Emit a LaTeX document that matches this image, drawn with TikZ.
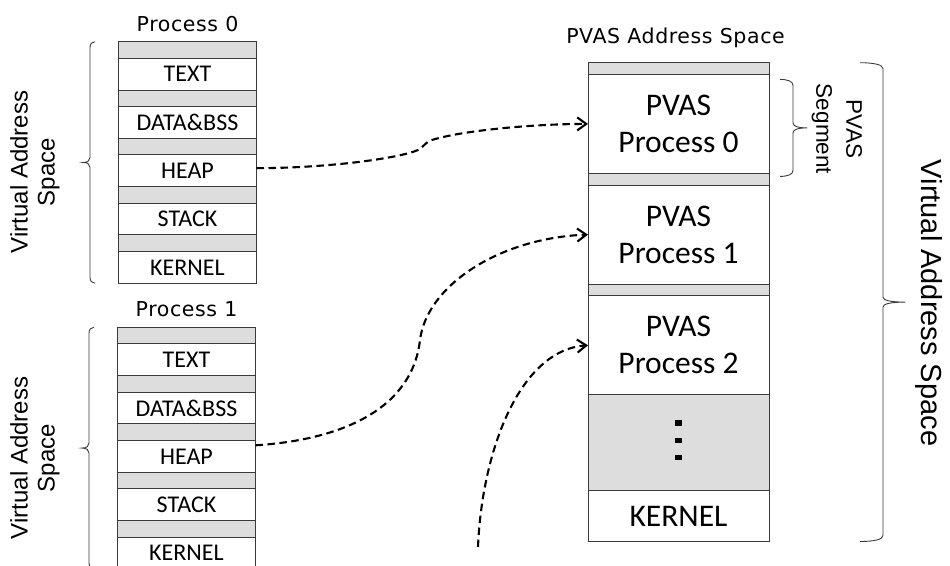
\documentclass[tikz,border=0pt]{standalone}
\usepackage{fontspec}
\usepackage{tikz}
\usetikzlibrary{arrows.meta, positioning, calc}
\newfontfamily\boxfont{Carlito}
\newfontfamily\titlefont[LetterSpace=3]{DejaVu Sans}
\newfontfamily\sidefont{Liberation Sans}
\definecolor{padgray}{HTML}{DDDDDD}
\definecolor{linegray}{HTML}{3A3A3A}
% flat brace: top end, bottom end, spine offset, tip offset
\newcommand*{\flatbrace}[4]{%
  \draw[bracket] (#1) .. controls +({0.6*(#3)},0) and +(0,-4) .. ($(#1)+(#3,6)$)
    -- ($(#1)!0.5!(#2)+(#3,-5)$) .. controls +(0,3) and +({-0.7*(#4)},0) .. ($(#1)!0.5!(#2)+({(#3)+(#4)},0)$)
    .. controls +({-0.7*(#4)},0) and +(0,-3) .. ($(#1)!0.5!(#2)+(#3,5)$)
    -- ($(#2)+(#3,-6)$) .. controls +(0,4) and +({0.6*(#3)},0) .. (#2);}

\begin{document}
\begin{tikzpicture}[x=1pt, y=-1pt, node distance=0pt,
    layer/.style={draw=linegray, line width=0.9pt, outer sep=0pt, inner sep=0pt,
      minimum width=138pt, minimum height=31.8pt, font=\boxfont\fontsize{24}{26}\selectfont},
    pad/.style={layer, fill=padgray, minimum height=16.5pt},
    seg/.style={layer, minimum width=181pt, minimum height=99pt, align=center,
      font=\boxfont\fontsize{31.5}{37}\selectfont},
    segpad/.style={seg, fill=padgray, minimum height=11.7pt},
    title/.style={inner sep=0pt, font=\titlefont\fontsize{20.5}{24}\selectfont},
    side/.style={align=center, inner sep=0pt, font=\sidefont\fontsize{24}{27}\selectfont},
    bracket/.style={draw=linegray, line width=0.9pt},
    link/.style={line width=2.1pt, dash pattern=on 7.5pt off 4.5pt,
      -{Straight Barb[length=9pt, width=13pt]}}]
  \useasboundingbox (0,0) rectangle (950,565);

  % process 0
  \node[pad, anchor=north] (p0a) at (187.5,41.7) {};
  \node[layer, below=of p0a] (p0text) {TEXT};
  \node[pad, below=of p0text] (p0b) {};
  \node[layer, below=of p0b] (p0data) {DATA\&BSS};
  \node[pad, below=of p0data] (p0c) {};
  \node[layer, below=of p0c] (p0heap) {HEAP};
  \node[pad, below=of p0heap] (p0d) {};
  \node[layer, below=of p0d] (p0stack) {STACK};
  \node[pad, below=of p0stack] (p0e) {};
  \node[layer, below=of p0e] (p0kernel) {KERNEL};
  \node[title, above=10pt of p0a] (t0) {Process 0};

  % process 1
  \node[pad, anchor=north] (p1a) at (186.5,327.3) {};
  \node[layer, below=of p1a] (p1text) {TEXT};
  \node[pad, below=of p1text] (p1b) {};
  \node[layer, below=of p1b] (p1data) {DATA\&BSS};
  \node[pad, below=of p1data] (p1c) {};
  \node[layer, below=of p1c] (p1heap) {HEAP};
  \node[pad, below=of p1heap] (p1d) {};
  \node[layer, below=of p1d] (p1stack) {STACK};
  \node[pad, below=of p1stack] (p1e) {};
  \node[layer, below=of p1e] (p1kernel) {KERNEL};
  \node[title, above=10.5pt of p1a] (t1) {Process 1};

  % PVAS address space
  \node[segpad, anchor=north] (va) at (678.5,62.7) {};
  \node[seg, below=of va] (pvas0) {PVAS\\Process 0};
  \node[segpad, below=of pvas0] (vb) {};
  \node[seg, below=of vb] (pvas1) {PVAS\\Process 1};
  \node[segpad, below=of pvas1] (vc) {};
  \node[seg, below=of vc] (pvas2) {PVAS\\Process 2};
  \node[seg, fill=padgray, minimum height=96pt, below=of pvas2] (more) {};
  \node[seg, minimum height=50.7pt, below=of more] (vkernel) {KERNEL};
  \node[title, above=15pt of va, xshift=-3pt] (tv) {PVAS Address Space};
  \foreach \dy in {-22.5,-5,12}
    \fill[black] ([shift={(-3.5,\dy)}]more.center) rectangle ++(7,5.5);

  % labels and braces
  \node[side, rotate=90] (vas0) at (35,172) {Virtual Address\\Space};
  \node[side, rotate=90] (vas1) at (35,458) {Virtual Address\\Space};
  \node[side, rotate=-90, font=\sidefont\fontsize{22.5}{30}\selectfont] (segl) at (837,129) {PVAS\\Segment};
  \node[side, rotate=-90, font=\sidefont\fontsize{29}{34}\selectfont] (vasr) at (929,303) {Virtual Address Space};
  \coordinate (b0top) at ([xshift=-23.5pt]p0a.north west);
  \coordinate (b0bot) at ([xshift=-23.5pt]p0kernel.south west);
  \coordinate (b1top) at ([xshift=-23.5pt]p1a.north west);
  \coordinate (b1bot) at ([xshift=-23.5pt]p1kernel.south west);
  \coordinate (bstop) at ([shift={(11,5)}]pvas0.north east);
  \coordinate (bsbot) at ([shift={(11,3)}]pvas0.south east);
  \coordinate (bvtop) at ([xshift=91pt]va.north east);
  \coordinate (bvbot) at ([xshift=91pt]vkernel.south east);
  \flatbrace{b0top}{b0bot}{-5}{-7}
  \flatbrace{b1top}{b1bot}{-5}{-7}
  \flatbrace{bstop}{bsbot}{13}{14}
  \flatbrace{bvtop}{bvbot}{23}{22}

  % links
  \coordinate (src) at (478,547);
  \draw[link] ([yshift=2.5pt]p0heap.east) .. controls (330,168) and (400,158) .. (418,150)
    .. controls (424,147) and (425,142) .. (432,140) .. controls (460,131) and (530,124) .. (pvas0.west);
  \draw[link] ([yshift=11pt]p1heap.east) .. controls (340,440) and (412,410) .. (420,340)
    .. controls (427,285) and (500,238) .. (pvas1.west);
  \draw[link] (src) .. controls (482,450) and (520,350) .. (pvas2.west);
\end{tikzpicture}
\end{document}
